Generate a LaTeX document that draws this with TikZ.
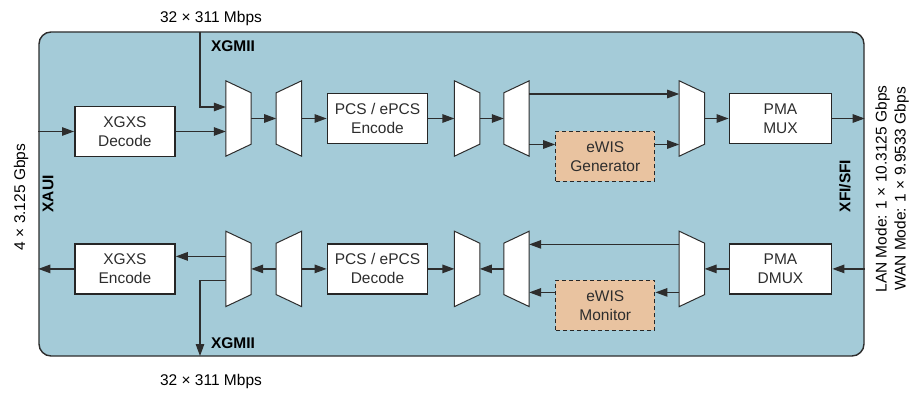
\documentclass[tikz,border=0pt]{standalone}
\usepackage{fontspec}
\setmainfont{Liberation Sans}
\usetikzlibrary{arrows.meta, positioning}
\definecolor{chipblue}{RGB}{164,203,216}
\definecolor{ewispeach}{RGB}{233,195,160}
\definecolor{wire}{RGB}{45,45,45}
\newcommand{\diafont}{\fontsize{15.5}{19}\selectfont}
\tikzset{
  chipbox/.style={draw=wire, line width=1.4pt, fill=chipblue, rounded corners=12pt,
    minimum width=825pt, minimum height=324pt, inner sep=0pt},
  blk/.style={draw=black!85, line width=1.8pt, fill=white, minimum width=100pt,
    minimum height=50pt, inner sep=0pt, align=center, text=wire},
  ewis/.style={blk, dash pattern=on 4pt off 3pt, line width=1.2pt, fill=ewispeach},
  muxbox/.style={minimum width=25pt, minimum height=75pt, inner sep=0pt},
  trap/.style={draw=wire, line width=1pt, fill=white},
  lnk/.style={draw=wire, line width=1.2pt, -{Triangle[length=12pt,width=8.5pt]}},
  tag/.style={font=\diafont\bfseries},
}

\begin{document}
\begin{tikzpicture}[x=1pt, y=-1pt, font=\diafont]
  \useasboundingbox (0,0) rectangle (916,393);
  \node[chipbox] (chip) at (451.5,194) {};

  % transmit path
  \node[muxbox] (m1) at (238.5,118.5) {};
  \node[muxbox, right=25pt of m1] (m2) {};
  \node[blk, right=25pt of m2] (pcsenc) {PCS / ePCS\\Encode};
  \node[muxbox, right=26pt of pcsenc] (m3) {};
  \node[muxbox, right=24pt of m3] (m4) {};
  \node[muxbox, right=150pt of m4] (m5) {};
  \node[blk, minimum width=102pt, right=24pt of m5] (pmamux) {PMA\\MUX};
  \node[blk, left=50pt of m1, yshift=-13pt] (xdec) {XGXS\\Decode};
  \node[ewis, minimum width=99pt, right=26pt of m4, yshift=-38pt] (wgen) {eWIS\\Generator};

  % receive path
  \node[muxbox, below=75pt of m1] (b1) {};
  \node[muxbox, right=25pt of b1] (b2) {};
  \node[blk, right=25pt of b2] (pcsdec) {PCS / ePCS\\Decode};
  \node[muxbox, right=26pt of pcsdec] (b3) {};
  \node[muxbox, right=24pt of b3] (b4) {};
  \node[muxbox, right=150pt of b4] (b5) {};
  \node[blk, minimum width=102pt, right=24pt of b5] (pmadmux) {PMA\\DMUX};
  \node[blk, left=50pt of b1] (xenc) {XGXS\\Encode};
  \node[ewis, minimum width=99pt, right=26pt of b4, yshift=-36.5pt] (wmon) {eWIS\\Monitor};

  % mux / demux outlines
  \foreach \m in {m1,m3,m5,b1,b3,b5}
    \draw[trap] (\m.north west) -- ([yshift=-12pt]\m.north east)
      -- ([yshift=12pt]\m.south east) -- (\m.south west) -- cycle;
  \foreach \m in {m2,m4,b2,b4}
    \draw[trap] ([yshift=-12pt]\m.north west) -- (\m.north east)
      -- (\m.south east) -- ([yshift=12pt]\m.south west) -- cycle;

  % interface labels
  \coordinate (gin) at (200,32);
  \coordinate (gout) at (200,356);
  \node (rtop) at (211,18) {32 × 311 Mbps};
  \node (rbot) at (211,381) {32 × 311 Mbps};
  \node[tag] (gtop) at (233,46) {XGMII};
  \node[tag] (gbot) at (233,343) {XGMII};
  \node[tag, rotate=90] (xaui) at (48,194) {XAUI};
  \node[rotate=90] (xrate) at (21,197) {4 × 3.125 Gbps};
  \node[tag, rotate=90] (xfi) at (845,186) {XFI/SFI};
  \node[rotate=90, align=center] (lrate) at (892,189)
    {LAN Mode: 1 × 10.3125 Gbps\\WAN Mode: 1 × 9.9533 Gbps};

  % transmit connections
  \draw[lnk] (chip.west |- xdec.west) -- (xdec.west);
  \draw[lnk] (xdec.east) -- (xdec.east -| m1.west);
  \draw[lnk] (gin) |- ([yshift=11.5pt]m1.west);
  \draw[lnk] (m1.east) -- (m2.west);
  \draw[lnk] (m2.east) -- (pcsenc.west);
  \draw[lnk] (pcsenc.east) -- (m3.west);
  \draw[lnk] (m3.east) -- (m4.west);
  \draw[lnk] ([yshift=24.5pt]m4.east) -- ([yshift=24.5pt]m5.west);
  \draw[lnk] ([yshift=-26pt]m4.east) -- ([yshift=-26pt]m4.east -| wgen.west);
  \draw[lnk] ([yshift=-26pt]m5.west -| wgen.east) -- ([yshift=-26pt]m5.west);
  \draw[lnk] (m5.east) -- (pmamux.west);
  \draw[lnk] (pmamux.east) -- (pmamux.east -| chip.east);

  % receive connections
  \draw[lnk] (chip.east |- pmadmux.east) -- (pmadmux.east);
  \draw[lnk] (pmadmux.west) -- (b5.east);
  \draw[lnk] ([yshift=24.5pt]b5.west) -- ([yshift=24.5pt]b4.east);
  \draw[lnk] ([yshift=-23.5pt]b5.west) -- ([yshift=-23.5pt]b5.west -| wmon.east);
  \draw[lnk] ([yshift=-23.5pt]b4.east -| wmon.west) -- ([yshift=-23.5pt]b4.east);
  \draw[lnk] (b4.west) -- (b3.east);
  \draw[lnk] (pcsdec.east) -- (b3.west);
  \draw[lnk] (b2.east) -- (pcsdec.west);
  \draw[lnk] (b2.west) -- (b1.east);
  \draw[lnk] ([yshift=12.5pt]b1.west) -- ([yshift=12.5pt]b1.west -| xenc.east);
  \draw[lnk] ([yshift=-11.5pt]b1.west) -| (gout);
  \draw[lnk] (xenc.west) -- (xenc.west -| chip.west);
\end{tikzpicture}
\end{document}
